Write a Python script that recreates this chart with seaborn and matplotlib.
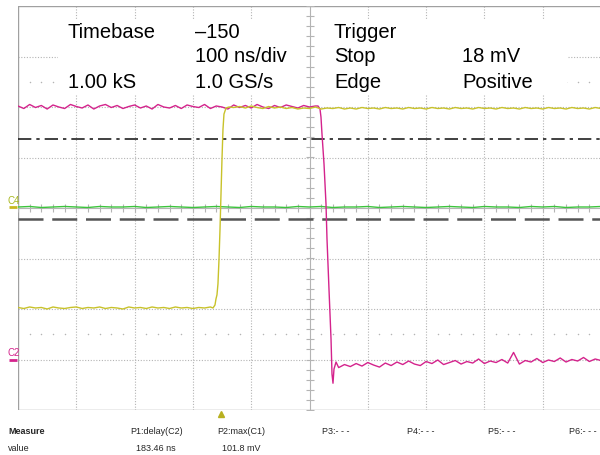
import numpy as np
import pandas as pd
import matplotlib
matplotlib.use("Agg")
import matplotlib.pyplot as plt
import seaborn as sns
from matplotlib.patches import Rectangle

# ---- acquisition settings (divisions: 100 ns/div horizontally, vertical in div) ----
NS_PER_DIV = 100
N_XDIV, N_YDIV = 10, 8

# C2 (magenta): high level, falling edge, settled low level
c2_high_step = 10
c2_high = [2.02, 1.97, 2.05, 1.99, 2.03, 1.96, 2.04, 2.00, 1.97, 2.05,
           2.01, 1.98, 2.04, 1.96, 2.02, 2.05, 1.99, 2.03, 1.97, 2.01,
           2.04, 1.98, 2.02, 1.96, 2.05, 2.00, 1.98, 2.03, 1.97, 2.04,
           2.01, 1.99, 2.05, 1.97, 2.02, 2.00, 1.96, 2.04, 1.99, 2.03,
           1.98, 2.05, 2.00, 1.97, 2.03, 1.99, 2.04, 2.01, 1.98, 2.03,
           2.00, 2.02]
c2_edge_t = [514.6, 518.0, 519.7, 521.4, 524.9, 528.3, 530.0, 533.4, 536.9, 538.6, 540.3, 542.0, 545.5]
c2_edge_v = [2.02, 1.96, 1.80, 1.47, 0.87, 0.08, -0.61, -1.60, -2.59, -3.29, -3.47, -3.19, -3.05]
c2_low_start = 550
c2_low = [-3.16, -3.10, -3.14, -3.08, -3.13, -3.06, -3.11, -3.15, -3.07, -3.12,
          -3.05, -3.10, -3.03, -3.09, -3.12, -3.04, -3.08, -3.01, -3.10, -3.06,
          -3.02, -3.09, -3.04, -3.07, -2.99, -3.08, -3.03, -3.06, -3.00, -3.07,
          -2.86, -3.09, -3.02, -3.05, -2.98, -3.06, -3.01, -3.04, -2.97, -3.05,
          -3.00, -3.03, -2.96, -3.04, -2.99, -3.02]

# C1 (yellow): low level, rising edge, high level
c1_low = [-1.97, -1.99, -1.96, -1.98, -1.97, -2.00, -1.96, -1.98, -1.99, -1.97,
          -1.96, -1.99, -1.97, -1.98, -1.96, -1.99, -1.97, -1.98, -2.00, -1.96,
          -1.98, -1.97, -1.99, -1.96, -1.98, -1.97, -1.99, -1.96, -1.98, -1.97,
          -1.99, -1.97, -1.98, -1.96]
c1_edge_t = [334.5, 337.9, 339.6, 341.3, 343.0, 344.8, 346.5, 348.2, 349.9, 351.6, 353.3, 356.8, 361.9]
c1_edge_v = [-1.98, -1.92, -1.80, -1.72, -1.50, -1.01, -0.42, 0.28, 0.97, 1.56, 1.86, 1.98, 2.00]
c1_high_start = 370
c1_high = [1.99, 2.01, 1.98, 2.02, 1.99, 1.97, 2.01, 1.98, 2.00, 1.97,
           1.99, 1.96, 1.98, 1.97, 2.00, 1.96, 1.98, 1.97, 1.99, 1.96,
           1.98, 1.96, 1.99, 1.97, 1.98, 1.96, 1.99, 1.97, 1.98, 1.96,
           1.99, 1.97, 1.98, 1.96, 1.99, 1.97, 1.98, 1.96, 1.99, 1.97,
           1.98, 1.96, 1.99, 1.97, 1.98, 1.96, 1.99, 1.97, 1.98, 1.96,
           1.99, 1.97, 1.98, 1.96, 1.99, 1.97, 1.98, 1.96, 1.99, 1.97,
           1.98, 1.96, 1.99, 1.97]

# C4 (green): flat trace
c4_step = 20
c4 = [0.02, 0.03, 0.01, 0.02, 0.03, 0.02, 0.01, 0.03, 0.02, 0.02,
      0.03, 0.01, 0.02, 0.03, 0.02, 0.01, 0.02, 0.03, 0.02, 0.01,
      0.03, 0.02, 0.02, 0.01, 0.03, 0.02, 0.03, 0.01, 0.02, 0.02,
      0.03, 0.01, 0.02, 0.03, 0.02, 0.01, 0.02, 0.03, 0.02, 0.01,
      0.03, 0.02, 0.02, 0.01, 0.03, 0.02, 0.03, 0.01, 0.02, 0.02, 0.03]

# cursor / threshold levels (div)
dashdot_level = 1.37
dashed_level = -0.22

# readout text
info_left = [("Timebase", "\u2013150"), ("", "100 ns/div"), ("1.00 kS", "1.0 GS/s")]
info_right = [("Trigger", ""), ("Stop", "18 mV"), ("Edge", "Positive")]
measure_heads = ["P1:delay(C2)", "P2:max(C1)", "P3:- - -", "P4:- - -", "P5:- - -", "P6:- - -"]
measure_values = ["183.46 ns", "101.8 mV"]

C_MAG = "#d4238c"
C_YEL = "#c8c22a"
C_GRN = "#3cc43c"
C_GRID = "#b4b4b4"

# ---- assemble the traces ----
c2_t = list(np.arange(len(c2_high)) * c2_high_step) + c2_edge_t + \
       list(c2_low_start + np.arange(len(c2_low)) * 10)
c2_v = c2_high + c2_edge_v + c2_low
c1_t = list(np.arange(len(c1_low)) * 10) + c1_edge_t + \
       list(c1_high_start + np.arange(len(c1_high)) * 10)
c1_v = c1_low + c1_edge_v + c1_high
c4_t = list(np.arange(len(c4)) * c4_step)

df = pd.concat([
    pd.DataFrame({"t": c2_t, "v": c2_v, "ch": "C2"}),
    pd.DataFrame({"t": c1_t, "v": c1_v, "ch": "C1"}),
    pd.DataFrame({"t": c4_t, "v": c4, "ch": "C4"}),
], ignore_index=True)

sns.set_theme(style="white")
plt.rcParams["font.family"] = ["Liberation Sans", "DejaVu Sans"]

fig = plt.figure(figsize=(6.0, 4.56), dpi=100)
W, H = 600, 456
ax = fig.add_axes([18 / W, (H - 411) / H, 583 / W, 404 / H])
xmax = N_XDIV * NS_PER_DIV
ax.set_xlim(0, xmax)
ax.set_ylim(-N_YDIV / 2, N_YDIV / 2)
for s in ax.spines.values():
    s.set_visible(False)
ax.set_xticks([])
ax.set_yticks([])

# graticule
for k in range(1, N_XDIV):
    if k != N_XDIV // 2:
        ax.axvline(k * NS_PER_DIV, color=C_GRID, lw=0.8, ls=(0, (1, 1.5)), zorder=1)
for k in range(-N_YDIV // 2 + 1, N_YDIV // 2):
    if k != 0:
        ax.axhline(k, color=C_GRID, lw=0.8, ls=(0, (1, 1.5)), zorder=1)
# half-division dotted rows
sub_x = [x for x in np.arange(0, xmax, NS_PER_DIV / 5) if x % NS_PER_DIV != 0]
for yy in (2.5, -2.5):
    ax.scatter(sub_x, [yy] * len(sub_x), s=1.2, color=C_GRID, lw=0, zorder=1)

# frame
ax.axvline(0, color="#a0a0a0", lw=1.0, zorder=2)
ax.axhline(N_YDIV / 2, color="#a0a0a0", lw=1.0, zorder=2)
ax.axhline(-N_YDIV / 2, color="#a0a0a0", lw=1.0, zorder=2)

# readout panel background
ax.add_patch(Rectangle((68.6, 2.26), 873, 1.48, facecolor="white", edgecolor="none", zorder=3))

# center axes with minor ticks
ax.axvline(xmax / 2, color=C_GRID, lw=0.8, zorder=4)
ax.axhline(0, color=C_GRID, lw=0.8, zorder=4)
yt = np.arange(-N_YDIV / 2, N_YDIV / 2 + 0.01, 0.2)
ax.plot([xmax / 2] * len(yt), yt, ls="none", marker="_", ms=6, mew=0.8, color=C_GRID, zorder=4)
xt = np.arange(0, xmax + 1, NS_PER_DIV / 5)
ax.plot(xt, [0] * len(xt), ls="none", marker="|", ms=6, mew=0.8, color=C_GRID, zorder=4)

# cursor levels
ax.axhline(dashdot_level, color="#202020", lw=1.2, ls=(0, (8, 3, 2, 3)), zorder=5)
ax.axhline(dashed_level, color="#555555", lw=1.8, ls=(0, (10, 3.5)), zorder=5)

# traces
sns.lineplot(data=df, x="t", y="v", hue="ch", hue_order=["C4", "C2", "C1"],
             palette={"C2": C_MAG, "C1": C_YEL, "C4": C_GRN},
             estimator=None, sort=False, units="ch", legend=False, lw=1.0, ax=ax, zorder=6)
ax.set_xlabel("")
ax.set_ylabel("")

# channel offset markers on the left edge
NF = ["Liberation Sans Narrow", "Liberation Sans"]
fig.text(8 / W, 1 - 201 / H, "C4", color="#a8b820", fontsize=7, family=NF, va="center")
fig.text(8 / W, 1 - 353 / H, "C2", color=C_MAG, fontsize=7, family=NF, va="center")
ax.plot([-15, -2], [0.02, 0.02], color="#c8b820", lw=2, clip_on=False, solid_capstyle="butt")
ax.plot([-15, -2], [-3.0, -3.0], color=C_MAG, lw=2, clip_on=False, solid_capstyle="butt")

# trigger position marker under the grid
ax.plot([348], [-4.08], marker="^", ms=5, color="#b8b020", clip_on=False, zorder=7)

# readout text
FS = 14.5
col_x = [68 / W, 195 / W]
row_y = [1 - 32 / H, 1 - 57 / H, 1 - 83 / H]
for (a, b), y in zip(info_left, row_y):
    fig.text(col_x[0], y, a, fontsize=FS, color="black", va="center", zorder=8)
    fig.text(col_x[1], y, b, fontsize=FS, color="black", va="center", zorder=8)
for (a, b), y in zip(info_right, row_y):
    fig.text(334 / W, y, a, fontsize=FS, color="black", va="center", zorder=8)
    fig.text(462 / W, y, b, fontsize=FS, color="black", va="center", zorder=8)

# measurement table
MFS = 6.5
fig.text(8 / W, 1 - 432 / H, "Measure", fontsize=MFS, weight="bold", family=NF, va="center")
fig.text(8 / W, 1 - 449 / H, "value", fontsize=MFS, family=NF, va="center")
head_x = [130, 217, 322, 407, 488, 569]
for hx, h in zip(head_x, measure_heads):
    fig.text(hx / W, 1 - 432 / H, h, fontsize=MFS, family=NF, va="center")
val_right = [176, 261]
for vx, v in zip(val_right, measure_values):
    fig.text(vx / W, 1 - 449 / H, v, fontsize=MFS, family=NF, va="center", ha="right")

fig.savefig("out.png", dpi=100, facecolor="white")
